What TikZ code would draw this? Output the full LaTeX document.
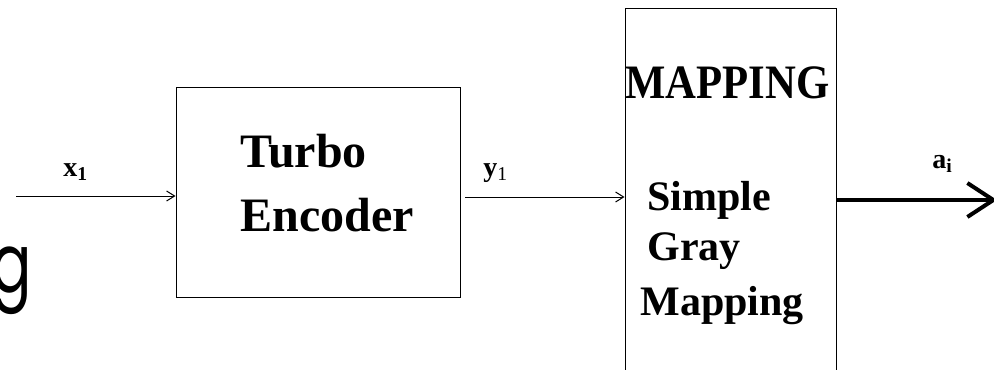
\documentclass[tikz,border=0pt]{standalone}
\usepackage{fontspec}
\setmainfont{Liberation Serif}
\newfontfamily\gfont{Poppins}
\usetikzlibrary{arrows.meta}

\begin{document}
\begin{tikzpicture}[x=0.5pt, y=-0.5pt,
  blk/.style={draw, line width=0.5pt, inner sep=0},
  big/.style={inner sep=0, anchor=base west, font=\bfseries\fontsize{24}{24}\selectfont},
  mid/.style={inner sep=0, anchor=base west, font=\bfseries\fontsize{21}{21}\selectfont},
  lbl/.style={inner sep=0, anchor=base west, font=\bfseries\fontsize{14}{14}\selectfont},
  thinarr/.style={line width=0.5pt, -{Straight Barb[length=4pt,width=5pt]}}]
\useasboundingbox (0,0) rectangle (994,369);
\clip (0,0) rectangle (994,369);

% blocks
\node[blk, minimum width=142pt, minimum height=104.5pt] (enc) at (318,192.5) {};
\node[blk, minimum width=105.5pt, minimum height=185.5pt] (map) at (730.5,194.5) {};

\node[big] (enc-1) at (240,167) {Turbo};
\node[big] (enc-2) at (240,231) {Encoder};

\node[big] (map-0) at (625,98) {\scalebox{0.89}[1]{MAPPING}};
\node[mid] (map-1) at (647,210) {Simple};
\node[mid] (map-2) at (647,260) {Gray};
\node[mid] (map-3) at (640,315) {Mapping};

\node[anchor=base east, inner sep=0, font=\gfont\fontsize{41}{41}\selectfont] (big-g) at (32,292) {\scalebox{0.73}[1]{g}};

% signals
\coordinate (x-in) at (16,196);
\coordinate (y-out) at (465,197);
\coordinate (a-out) at (997,200);

\draw[thinarr] (x-in) -- (x-in -| enc.west);
\draw[thinarr] (y-out) -- (y-out -| map.west);
\draw[line width=2pt, -{Straight Barb[length=13pt,width=17pt]}] (a-out -| map.east) -- (a-out);

\node[lbl] (x-lbl) at (63,176) {x\textsubscript{1}};
\node[lbl] (y-lbl) at (483,176) {y\textsubscript{\mdseries 1}};
\node[lbl] (a-lbl) at (932,168) {a\textsubscript{i}};
\end{tikzpicture}
\end{document}
